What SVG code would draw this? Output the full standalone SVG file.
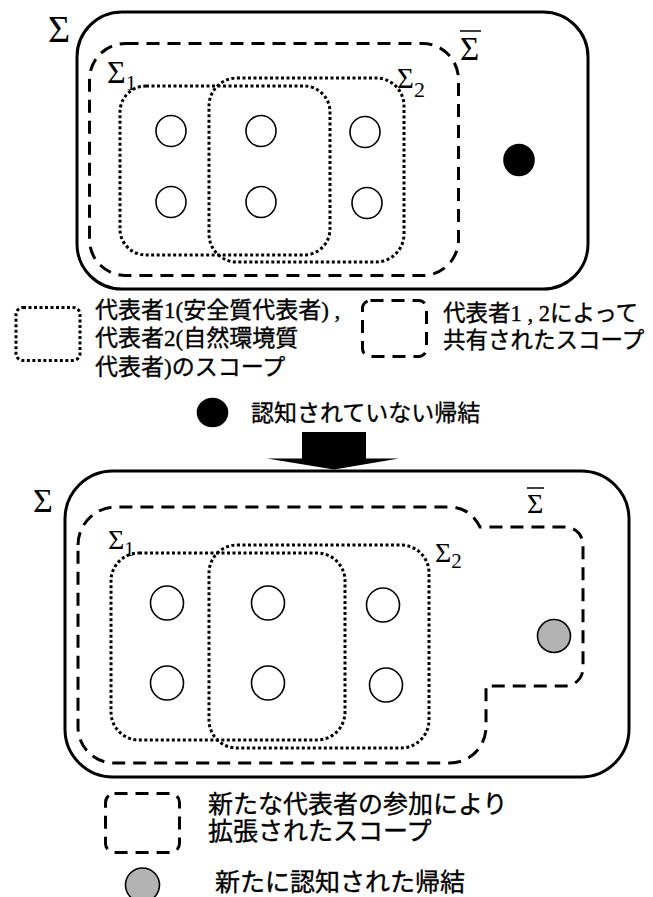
<svg xmlns="http://www.w3.org/2000/svg" width="653" height="897" viewBox="0 0 653 897">
<style>
.bg{fill:#fff}
.outer{fill:none;stroke:#000;stroke-width:3}
.dash{fill:none;stroke:#000;stroke-width:3;stroke-dasharray:13 8}
.dot{fill:none;stroke:#000;stroke-width:3;stroke-dasharray:3 2.5}
.node{fill:#fff;stroke:#000;stroke-width:1.6}
.black{fill:#000;stroke:#000;stroke-width:1.6}
.gray{fill:#b3b3b3;stroke:#000;stroke-width:1.6}
.sym{font-family:'Liberation Serif','Times New Roman',serif;fill:#000}
.jp{font-family:'Noto Sans CJK JP','Noto Sans CJK SC',sans-serif;fill:#000;stroke:#000;stroke-width:0.35}
.ser{font-family:'Liberation Serif','Times New Roman',serif}
</style>
<rect class="bg" x="0" y="0" width="653" height="897"/>

<!-- Top diagram -->
<g id="top-universe">
<rect class="outer" x="77" y="12" width="511" height="277" rx="45"/>
<text class="sym" x="48" y="42" font-size="38">Σ</text>
</g>
<g id="top-shared-scope">
<rect class="dash" x="89.5" y="43.5" width="369" height="232" rx="36"/>
<text class="sym" x="460" y="60" font-size="33">Σ</text>
<line x1="460" y1="31" x2="481" y2="31" stroke="#000" stroke-width="1.5"/>
</g>
<g id="top-scope1">
<rect class="dot" x="120" y="86" width="210" height="169" rx="26"/>
<text class="sym" x="107" y="83" font-size="32">Σ<tspan font-size="21" dy="7">1</tspan></text>
</g>
<g id="top-scope2">
<rect class="dot" x="209" y="78" width="195" height="184" rx="28"/>
<text class="sym" x="397" y="88" font-size="29">Σ<tspan font-size="22" dy="9">2</tspan></text>
</g>
<g id="top-nodes">
<ellipse class="node" cx="171" cy="131" rx="15" ry="15.5"/>
<ellipse class="node" cx="261" cy="131" rx="15" ry="15.5"/>
<ellipse class="node" cx="365" cy="132" rx="15" ry="15.5"/>
<ellipse class="node" cx="171" cy="202" rx="15" ry="15.5"/>
<ellipse class="node" cx="261" cy="202" rx="15" ry="15.5"/>
<ellipse class="node" cx="367" cy="203" rx="15" ry="15.5"/>
</g>
<g id="top-unrecognized">
<ellipse class="black" cx="519" cy="160" rx="15" ry="15.5"/>
</g>

<!-- Legend -->
<g id="legend-dotted">
<rect class="dot" x="16" y="307.5" width="64" height="53" rx="7"/>
<text class="jp" x="95" y="318" font-size="23">代表者<tspan class="ser">1(</tspan>安全質代表者<tspan class="ser">) ,</tspan></text>
<text class="jp" x="95" y="346" font-size="23">代表者<tspan class="ser">2(</tspan>自然環境質</text>
<text class="jp" x="95" y="375" font-size="23">代表者<tspan class="ser">)</tspan>のスコープ</text>
</g>
<g id="legend-dashed">
<rect class="dash" x="362.5" y="300.5" width="64" height="56" rx="8"/>
<text class="jp" x="443" y="321" font-size="22.5">代表者<tspan class="ser">1 , 2</tspan>によって</text>
<text class="jp" x="443" y="348" font-size="22.5">共有されたスコープ</text>
</g>
<g id="legend-black">
<ellipse class="black" cx="212.5" cy="412.5" rx="15" ry="14"/>
<text class="jp" x="251" y="421" font-size="23">認知されていない帰結</text>
</g>

<!-- Transition arrow -->
<g id="connectors">
<path d="M302,432 H366 V458.5 H399 L334,469.5 L267,458.5 H302 Z" fill="#000"/>
</g>

<!-- Bottom diagram -->
<g id="bottom-universe">
<rect class="outer" x="65" y="471" width="564" height="306" rx="48"/>
<text class="sym" x="33" y="512" font-size="34">Σ</text>
</g>
<g id="bottom-extended-scope">
<path class="dash" d="M78,545 A38,38 0 0 1 116,507 L452,507 Q471,509 480,527 L565,527 A18,18 0 0 1 583,545 L583,668 A18,18 0 0 1 565,686 L486,686 L486,727 A36,36 0 0 1 450,763 L114,763 A36,36 0 0 1 78,727 Z"/>
<text class="sym" x="527" y="513" font-size="28">Σ</text>
<line x1="527" y1="488" x2="544" y2="488" stroke="#000" stroke-width="1.5"/>
</g>
<g id="bottom-scope1">
<rect class="dot" x="111" y="553" width="234" height="187" rx="28"/>
<text class="sym" x="108" y="549" font-size="28">Σ<tspan font-size="20" dy="7">1</tspan></text>
</g>
<g id="bottom-scope2">
<rect class="dot" x="209" y="545" width="220" height="203" rx="28"/>
<text class="sym" x="435" y="562" font-size="28">Σ<tspan font-size="21" dy="6">2</tspan></text>
</g>
<g id="bottom-nodes">
<ellipse class="node" cx="167" cy="603" rx="16.5" ry="17"/>
<ellipse class="node" cx="268" cy="603" rx="16.5" ry="17"/>
<ellipse class="node" cx="383" cy="605" rx="16.5" ry="17"/>
<ellipse class="node" cx="167" cy="683" rx="16.5" ry="17"/>
<ellipse class="node" cx="268" cy="683" rx="16.5" ry="17"/>
<ellipse class="node" cx="386" cy="685" rx="16.5" ry="17"/>
</g>
<g id="bottom-recognized">
<ellipse class="gray" cx="554" cy="636" rx="16.5" ry="16.5"/>
</g>

<!-- Bottom legend -->
<g id="legend-extended">
<rect class="dash" x="105.5" y="793.5" width="74" height="59" rx="9"/>
<text class="jp" x="208" y="813" font-size="25">新たな代表者の参加により</text>
<text class="jp" x="208" y="840" font-size="25">拡張されたスコープ</text>
</g>
<g id="legend-gray">
<circle class="gray" cx="142.5" cy="885" r="17"/>
<text class="jp" x="215" y="891" font-size="25">新たに認知された帰結</text>
</g>
</svg>
